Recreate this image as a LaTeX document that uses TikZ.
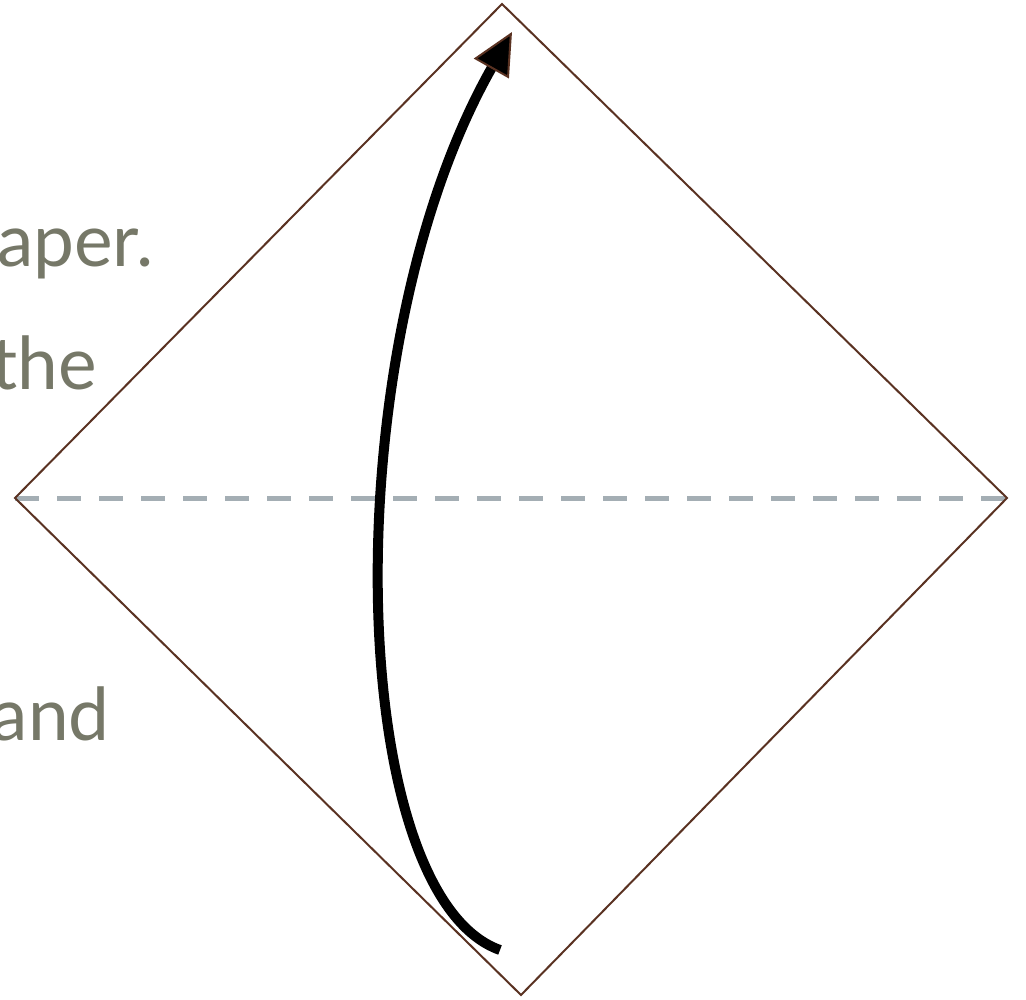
\documentclass[tikz,border=0pt]{standalone}
\usepackage{fontspec}
\setmainfont{Lato}
\usetikzlibrary{arrows.meta}
\definecolor{edgebrown}{HTML}{5A3222}
\definecolor{foldgray}{HTML}{A4AEB4}
\definecolor{textolive}{HTML}{767868}
\begin{document}
\begin{tikzpicture}[x=1pt,y=-1pt,
  paper/.style={draw=edgebrown,line width=2pt,line join=miter},
  fold/.style={draw=foldgray,line width=5pt,dash pattern=on 24pt off 18pt},
  motion/.style={draw=black,line width=10pt,
    -{Triangle[length=42pt,width=40pt,color=edgebrown,fill=black,line width=2pt]}},
  caption/.style={anchor=base east,inner sep=0pt,text=textolive,
    font=\fontsize{73}{86}\selectfont}]
\useasboundingbox (0,0) rectangle (1026,1000);
\coordinate (T) at (502,4);
\coordinate (R) at (1007,498);
\coordinate (B) at (521,995);
\coordinate (L) at (15,498);
\coordinate (S) at (500,950);
\coordinate (E) at (512,32);
\node[caption] (t1) at (154,267) {aper.};
\node[caption] (t2) at (97,390) {the};
\node[caption] (t3) at (110,740) {and};
\draw[fold] (L) -- (R);
\draw[paper] (T) -- (R) -- (B) -- (L) -- cycle;
\draw[motion] (S) .. controls (345,895) and (332,350) .. (E);
\end{tikzpicture}
\end{document}
